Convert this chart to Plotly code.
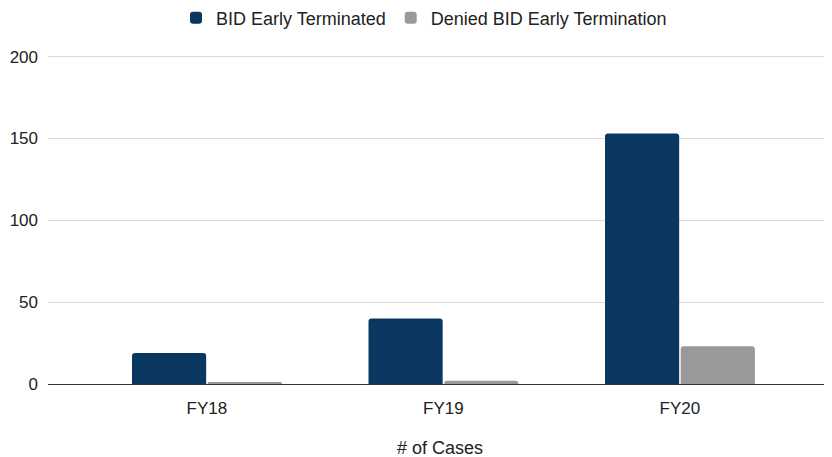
import plotly.graph_objects as go

categories = ["FY18", "FY19", "FY20"]
early_terminated = [19, 40, 153]
denied_early_termination = [1, 2, 23]
y_ticks = [0, 50, 100, 150, 200]

fig = go.Figure()
fig.add_trace(go.Bar(x=categories, y=early_terminated, name="BID Early Terminated",
                     marker=dict(color="#0a375f", line=dict(width=0))))
fig.add_trace(go.Bar(x=categories, y=denied_early_termination, name="Denied BID Early Termination",
                     marker=dict(color="#999999", line=dict(width=0))))

fig.update_layout(
    width=832, height=457,
    margin=dict(l=40, r=8, t=47, b=81, autoexpand=False),
    paper_bgcolor="white", plot_bgcolor="white",
    font=dict(family="Liberation Sans, Arial, sans-serif", size=17, color="#222222"),
    barmode="group", bargap=0.36, bargroupgap=0.02,
    barcornerradius=3,
    legend=dict(orientation="h", x=0.5, xanchor="center", xref="container",
                y=0.978, yanchor="middle", yref="container",
                font=dict(size=18, color="#222222"), traceorder="normal"),
    xaxis=dict(title=dict(text="# of Cases", font=dict(size=18), standoff=23),
               range=[-0.672, 2.643],
               showgrid=False, showline=True, linecolor="#333333", linewidth=1,
               ticks="", ticklabelstandoff=9, tickfont=dict(size=17), automargin=False),
    yaxis=dict(range=[0, 201], tickvals=y_ticks, showgrid=True, gridcolor="#d9d9d9",
               gridwidth=1, zeroline=True, zerolinecolor="#333333", zerolinewidth=1,
               ticks="", ticklabelstandoff=9, tickfont=dict(size=17), automargin=False),
)
fig.write_html("out.html")
